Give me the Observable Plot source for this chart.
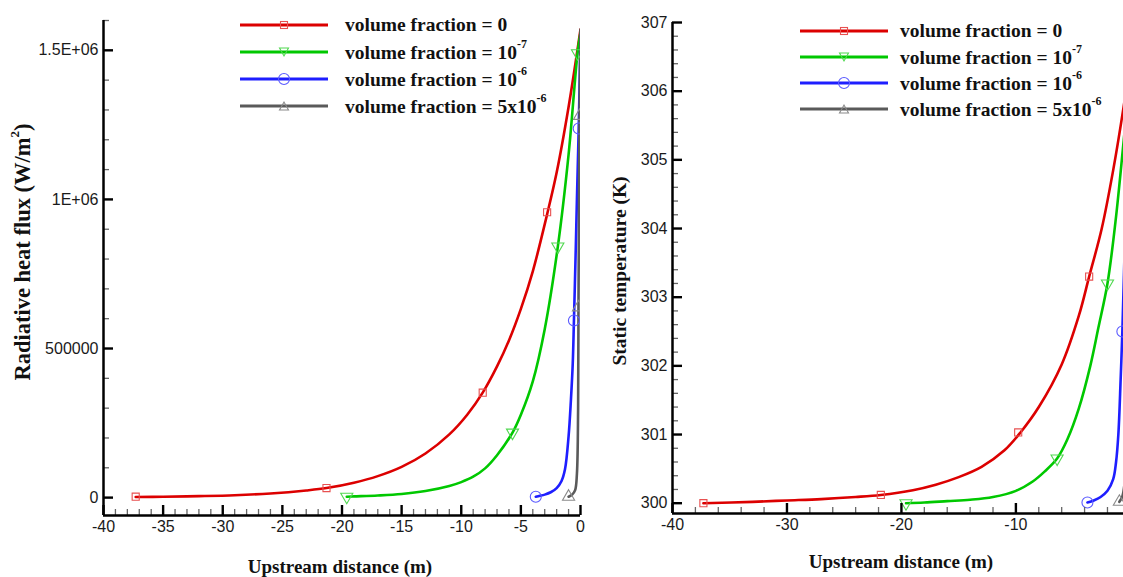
<!DOCTYPE html>
<html>
<head>
<meta charset="utf-8">
<script src="https://cdn.jsdelivr.net/npm/d3@7"></script>
<script src="https://cdn.jsdelivr.net/npm/@observablehq/plot@0.6"></script>
<style>
  html, body { margin: 0; padding: 0; background: #fff; overflow: hidden; }
  #wrap { position: relative; width: 1123px; height: 577px; overflow: hidden; background: #fff; }
  .panel { position: absolute; top: 0; }
  .title { position: absolute; font-family: "Liberation Serif", "Times New Roman", serif; font-weight: bold; font-size: 19px; color: #111; white-space: nowrap; }
  .legend { position: absolute; font-family: "Liberation Serif", "Times New Roman", serif; font-weight: bold; font-size: 19.5px; color: #111; }
  .row { position: absolute; white-space: nowrap; display: flex; align-items: center; height: 20px; }
  .row sup { font-size: 12px; position: relative; top: -3px; }
</style>
</head>
<body>
<div id="wrap"></div>
<script>
// ---------- Series names / colours ----------
const seriesNames = ["volume fraction = 0", "volume fraction = 10^-7", "volume fraction = 10^-6", "volume fraction = 5x10^-6"];
const seriesColors = ["#dc0000", "#00c800", "#1e1eff", "#5a5a5a"];
const markerColors = ["#e85050", "#50d850", "#5a5aff", "#8a8a8a"];

// ---------- Left panel: radiative heat flux (W/m2) ----------
const fluxX0 = [-37.3,-35,-32,-29,-26,-23,-21.3,-19,-17,-15,-13,-11,-9.5,-8.2,-7,-6,-5,-4,-2.8,-2,-1,0];
const fluxY0 = [2000,3000,5000,8000,14000,24000,32000,50000,72000,103000,148000,212000,278000,352000,440000,527000,633000,759000,950000,1090000,1310000,1570000];
const fluxX1 = [-19.6,-19,-17,-15,-13,-11,-10,-9,-8,-7,-5.7,-5,-4,-3,-1.9,-1,-0.25,0];
const fluxY1 = [3000,4000,7000,12000,22000,39000,52000,70000,98000,142000,218000,278000,390000,565000,842000,1150000,1490000,1560000];
const fluxX2 = [-3.75,-3.4,-3,-2.5,-2,-1.6,-1.3,-1,-0.8,-0.65,-0.55,-0.4,-0.3,-0.15,0];
const fluxY2 = [3000,6000,10000,18000,32000,55000,95000,205000,330000,450000,594000,830000,1000000,1238000,1550000];
const fluxX3 = [-1.0,-0.7,-0.45,-0.3,-0.2,-0.17,-0.12,-0.08,0];
const fluxY3 = [3000,10000,25000,80000,300000,638000,1000000,1280000,1570000];
// markers
const fluxMX = [[-37.3,-21.3,-8.2,-2.8],[-19.6,-5.7,-1.9,-0.25],[-3.75,-0.55,-0.15],[-1.0,-0.17,-0.08]];
const fluxMY = [[3000,32000,352000,957000],[3000,218000,842000,1490000],[3000,594000,1238000],[3000,638000,1280000]];
// axes
const fluxXTicks = [-40,-35,-30,-25,-20,-15,-10,-5,0];
const fluxXMinor = [-39,-38,-37,-36,-34,-33,-32,-31,-29,-28,-27,-26,-24,-23,-22,-21,-19,-18,-17,-16,-14,-13,-12,-11,-9,-8,-7,-6,-4,-3,-2,-1];
const fluxYTicks = [0, 500000, 1000000, 1500000];
const fluxYTickLabels = ["0", "500000", "1E+06", "1.5E+06"];
const fluxYMinor = [100000,200000,300000,400000,600000,700000,800000,900000,1100000,1200000,1300000,1400000,1600000];

// ---------- Right panel: static temperature (K) ----------
const tempX0 = [-37.3,-33,-30,-27,-24,-21.8,-19,-17,-15,-13,-11,-9.6,-8,-6,-4.5,-3.6,-2.5,-1.5,-0.6,0];
const tempY0 = [300.00,300.02,300.04,300.06,300.09,300.12,300.19,300.27,300.38,300.53,300.77,301.03,301.40,302.02,302.73,303.30,304.00,304.85,305.76,306.46];
const tempX1 = [-19.6,-18,-16,-14,-12,-10,-8.5,-7.5,-6.4,-5.5,-4.5,-3.5,-2.8,-2.0,-1.3,-0.6,0];
const tempY1 = [300.00,300.01,300.03,300.05,300.09,300.18,300.32,300.46,300.65,300.93,301.38,302.00,302.55,303.20,304.10,305.25,306.30];
const tempX2 = [-3.75,-3.2,-2.6,-2.0,-1.5,-1.25,-1.05,-0.85,-0.7,-0.5,-0.3,0];
const tempY2 = [300.01,300.04,300.09,300.18,300.35,300.60,301.00,301.80,302.50,303.70,305.00,306.50];
const tempX3 = [-0.96,-0.7,-0.5,-0.3,-0.15,0];
const tempY3 = [300.02,300.10,300.30,301.00,303.00,306.00];
const tempMX = [[-37.3,-21.8,-9.8,-3.6],[-19.6,-6.4,-2.0],[-3.75,-0.7],[-0.96]];
const tempMY = [[300.0,300.12,301.03,303.3],[300.0,300.65,303.2],[300.01,302.5],[300.02]];
const tempXTicks = [-40,-30,-20,-10,0];
const tempXMinor = [-38,-36,-34,-32,-28,-26,-24,-22,-18,-16,-14,-12,-8,-6,-4,-2];
const tempYTicks = [300,301,302,303,304,305,306,307];
const tempYMinor = [300.2,300.4,300.6,300.8,301.2,301.4,301.6,301.8,302.2,302.4,302.6,302.8,303.2,303.4,303.6,303.8,304.2,304.4,304.6,304.8,305.2,305.4,305.6,305.8,306.2,306.4,306.6,306.8];

const symbols = ["square", "triangle", "circle", "triangle"];
const rotations = [0, 180, 0, 0];
const radii = [4, 4.5, 5.5, 4.5];

function buildLines(xs, ys) {
  const rows = [];
  xs.forEach((xa, s) => xa.forEach((x, i) => rows.push({s, x, y: ys[s][i]})));
  return rows;
}

function panel(opts) {
  const lines = buildLines(opts.xs, opts.ys);
  const marks = [];
  const xmin = opts.xDomain[0], ymin = opts.yDomain[0];
  const xT = opts.xTicks.filter(v => v >= xmin && v <= opts.xDomain[1]);
  const fw = opts.width - opts.marginLeft - opts.marginRight;
  const fh = 577 - opts.marginTop - opts.marginBottom;
  // curves
  for (let s = 0; s < 4; s++) {
    marks.push(Plot.line(lines.filter(d => d.s === s), {x: "x", y: "y", stroke: seriesColors[s], strokeWidth: 2.6, curve: "catmull-rom", clip: true}));
  }
  // markers
  for (let s = 0; s < 4; s++) {
    const pts = opts.mx[s].map((x, i) => ({x, y: opts.my[s][i]}));
    marks.push(Plot.dot(pts, {x: "x", y: "y", symbol: symbols[s], rotate: rotations[s], r: radii[s], stroke: markerColors[s], strokeWidth: 1.1, fill: "none", clip: true}));
  }
  // minor ticks (inward), as short rules inset from the frame
  marks.push(Plot.ruleX(opts.xMinor, {x: d => d, insetTop: fh - 6, stroke: "#666", strokeWidth: 1.3}));
  marks.push(Plot.ruleY(opts.yMinor, {y: d => d, insetRight: fw - 6, stroke: "#666", strokeWidth: 1.3}));
  // major ticks (inward)
  marks.push(Plot.ruleX(xT, {x: d => d, insetTop: fh - 10, stroke: "#000", strokeWidth: 2.4}));
  marks.push(Plot.ruleY(opts.yTicks, {y: d => d, insetRight: fw - 10, stroke: "#000", strokeWidth: 2.4}));
  // axis lines
  marks.push(Plot.ruleY([ymin], {stroke: "#000", strokeWidth: 2.5}));
  marks.push(Plot.ruleX([xmin], {stroke: "#000", strokeWidth: 2.5}));
  // tick labels
  marks.push(Plot.axisX(xT, {tickSize: 0, tickPadding: 5, tickFormat: d => String(d), label: null, fill: "#1a1a1a", fontSize: 16}));
  marks.push(Plot.axisY(opts.yTicks, {tickSize: 0, tickPadding: 5, tickFormat: opts.yFormat, label: null, fill: "#1a1a1a", fontSize: 16}));
  return Plot.plot({
    width: opts.width, height: 577,
    marginLeft: opts.marginLeft, marginRight: opts.marginRight,
    marginTop: opts.marginTop, marginBottom: opts.marginBottom,
    x: {domain: opts.xDomain, axis: null},
    y: {domain: opts.yDomain, axis: null},
    style: {fontFamily: "'Liberation Sans', Arial, sans-serif", fontSize: "16px", background: "transparent"},
    marks
  });
}

const left = panel({
  width: 600, marginLeft: 103, marginRight: 20, marginTop: 20, marginBottom: 62,
  xDomain: [-40, 0], yDomain: [-60000, 1600000],
  xs: [fluxX0, fluxX1, fluxX2, fluxX3], ys: [fluxY0, fluxY1, fluxY2, fluxY3],
  mx: fluxMX, my: fluxMY,
  xTicks: fluxXTicks, xMinor: fluxXMinor, yTicks: fluxYTicks, yMinor: fluxYMinor,
  yFormat: d => fluxYTickLabels[fluxYTicks.indexOf(d)]
});
const right = panel({
  width: 523, marginLeft: 72, marginRight: 0, marginTop: 22, marginBottom: 64,
  xDomain: [-40, -0.6], yDomain: [299.85, 307],
  xs: [tempX0, tempX1, tempX2, tempX3], ys: [tempY0, tempY1, tempY2, tempY3],
  mx: tempMX, my: tempMY,
  xTicks: tempXTicks, xMinor: tempXMinor, yTicks: tempYTicks, yMinor: tempYMinor,
  yFormat: d => String(d)
});

const wrap = document.getElementById("wrap");
const holderL = document.createElement("div"); holderL.className = "panel"; holderL.style.left = "0px";
const holderR = document.createElement("div"); holderR.className = "panel"; holderR.style.left = "600px";
holderL.appendChild(left); holderR.appendChild(right);
wrap.appendChild(holderL);
wrap.appendChild(holderR);

function addTitle(text, cx, cy, rotate, size) {
  const d = document.createElement("div");
  d.className = "title";
  d.innerHTML = text;
  if (size) d.style.fontSize = size + "px";
  d.style.left = cx + "px"; d.style.top = cy + "px";
  d.style.transform = "translate(-50%,-50%)" + (rotate ? " rotate(-90deg)" : "");
  wrap.appendChild(d);
}
addTitle("Upstream distance (m)", 340, 567, false);
addTitle("Upstream distance (m)", 901, 562, false);
addTitle("Radiative heat flux (W/m<sup style='font-size:13px;position:relative;top:-3px'>2</sup>)", 23, 252, true, 22.5);
addTitle("Static temperature (K)", 620, 271, true, 19.5);

function markerSVG(s) {
  const c = markerColors[s];
  let m = "";
  if (s === 0) m = `<rect x="40.5" y="3.5" width="7" height="7" fill="none" stroke="${c}" stroke-width="1.1"/>`;
  if (s === 1) m = `<path d="M39.5,3 L48.5,3 L44,11 Z" fill="none" stroke="${c}" stroke-width="1.1"/>`;
  if (s === 2) m = `<circle cx="44" cy="7" r="5.5" fill="none" stroke="${c}" stroke-width="1.1"/>`;
  if (s === 3) m = `<path d="M39.5,11 L48.5,11 L44,3 Z" fill="none" stroke="${c}" stroke-width="1.1"/>`;
  return `<svg width="88" height="14" style="display:block"><line x1="0" y1="7" x2="88" y2="7" stroke="${seriesColors[s]}" stroke-width="3"/>${m}</svg>`;
}
function labelHTML(name) {
  return name.replace(/\^(-?\d+)/, "<sup>$1</sup>");
}
function addLegend(x0, textX, ys) {
  seriesNames.forEach((name, s) => {
    const r = document.createElement("div");
    r.className = "row legend";
    r.style.left = x0 + "px";
    r.style.top = (ys[s] - 10) + "px";
    r.innerHTML = markerSVG(s) + `<span style="margin-left:${textX - x0 - 88}px">${labelHTML(name)}</span>`;
    wrap.appendChild(r);
  });
}
addLegend(240, 345, [25, 52, 79, 106]);
addLegend(800, 900, [31, 57, 83, 109]);
</script>
</body>
</html>
